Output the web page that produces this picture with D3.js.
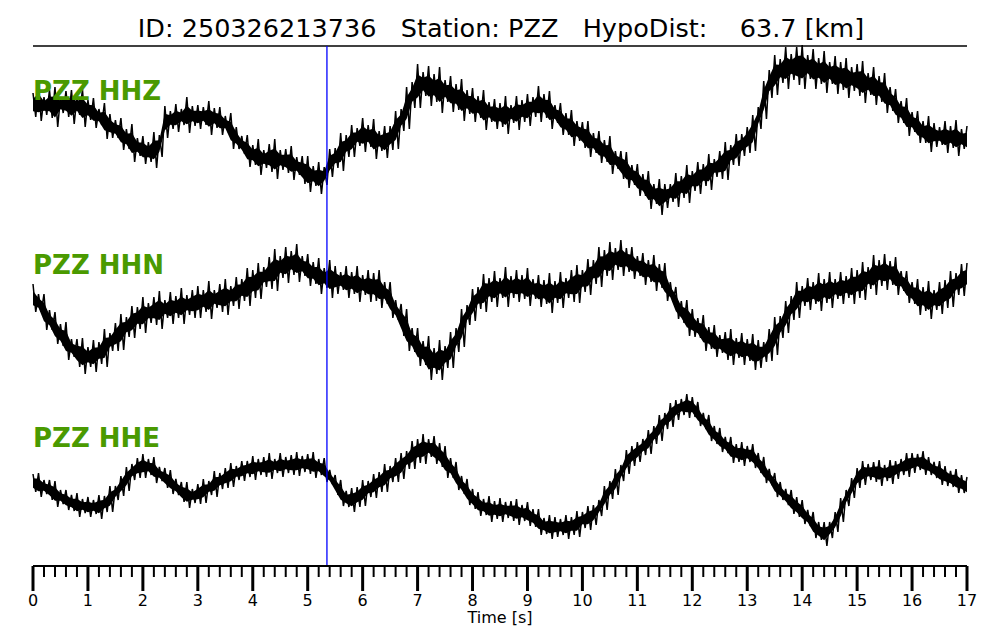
<!DOCTYPE html>
<html><head><meta charset="utf-8">
<script src="https://cdn.jsdelivr.net/npm/d3@7"></script>
<style>body{margin:0;background:#fff}svg{display:block}</style>
</head><body><svg id="c" width="1000" height="640"></svg>
<script>
// ---- data (0.1 s bins; trace mid value and noise half-width, arbitrary amplitude units) ----
const titleText = "ID: 250326213736   Station: PZZ   HypoDist:    63.7 [km]";
const channels = ["PZZ HHZ", "PZZ HHN", "PZZ HHE"];
const pickTime = 5.35;
const tMax = 17;
const binStep = 0.1;
const tickLabels = ["0","1","2","3","4","5","6","7","8","9","10","11","12","13","14","15","16","17"];

const hhzMid = [25,27,24,26,23,25,26,23,24,22, 20,17,13,9,4,1,-4,-9,-13,-17, -20,-22,-20,-16,8,10,12,13,15,14,
  13,14,12,12,9,6,-1,-8,-15,-21, -25,-27,-29,-28,-29,-30,-31,-33,-36,-40, -44,-46,-48,-46,-33,-28,-22,-16,-11,-7,
  -5,-6,-9,-11,-12,-8,0,10,22,35, 44,46,44,42,40,39,36,33,30,28, 25,23,20,18,16,15,15,16,17,19,
  20,23,26,24,20,16,11,6,2,-1, -5,-9,-13,-17,-21,-25,-30,-35,-40,-45, -50,-55,-60,-64,-67,-66,-63,-60,-57,-54,
  -51,-48,-45,-42,-38,-35,-31,-25,-20,-15, -10,-3,12,30,46,55,59,62,63,64, 63,63,61,59,58,57,55,54,52,51,
  50,48,46,44,41,37,31,24,18,13, 8,3,-2,-4,-5,-6,-7,-7,-8,-9, -10];
const hhzNoise = [12,18,9,14,20,8,13,17,9,19, 10,15,8,18,12,9,16,10,19,9, 14,10,18,11,16,9,14,8,18,10,
  12,9,17,10,14,8,18,11,9,16, 10,18,9,14,20,10,12,17,9,14, 18,10,16,9,14,10,19,11,16,9,
  17,11,20,10,16,12,19,11,21,13, 22,12,20,14,23,11,18,13,21,12, 17,11,20,10,15,12,19,9,17,11,
  16,10,18,12,19,9,16,11,18,10, 13,18,10,16,11,19,9,14,18,10, 16,11,19,10,18,12,9,17,11,19,
  10,16,11,18,9,14,19,10,16,11, 13,18,11,19,14,20,12,21,13,19, 22,12,20,13,21,11,19,14,20,12,
  16,21,11,19,13,20,12,17,11,19, 10,16,11,18,12,9,16,11,18,10, 14];

const hhnMid = [12,7,-2,-10,-18,-25,-31,-38,-43,-46, -47,-46,-43,-38,-32,-27,-22,-17,-12,-8, -5,-3,-1,0,1,2,3,4,5,6,
  8,9,10,11,12,13,14,17,20,23, 26,29,33,37,40,43,45,47,47,44, 40,37,34,32,31,30,29,28,27,26,
  25,24,23,21,17,10,0,-10,-20,-30, -37,-43,-48,-51,-50,-47,-40,-30,-18,-5, 5,12,17,20,21,22,23,23,24,23,
  23,21,19,18,17,18,20,22,24,26, 29,33,38,43,47,49,51,52,50,47, 44,41,39,37,34,28,18,7,-2,-8,
  -13,-18,-23,-28,-31,-34,-36,-37,-38,-39, -40,-42,-44,-42,-35,-26,-17,-7,2,10, 14,16,17,18,19,20,21,22,23,24,
  26,29,32,35,37,38,37,34,29,23, 17,13,11,10,10,12,16,21,26,30, 33];
const hhnNoise = [14,9,18,10,16,11,19,9,14,18, 10,16,11,19,9,14,18,10,16,11, 18,10,14,19,9,16,11,18,10,14,
  16,11,19,9,14,18,10,16,11,19, 14,18,10,16,21,11,18,12,19,10, 16,11,18,10,19,14,9,16,11,18,
  10,16,14,19,11,18,10,16,21,12, 19,12,22,13,20,11,18,12,19,10, 16,11,19,12,18,10,20,11,16,12,
  19,10,16,12,20,11,18,10,16,19, 11,18,12,20,13,19,11,18,12,16, 10,16,11,18,12,19,10,16,11,18,
  14,10,18,11,16,9,14,18,10,16, 11,18,14,10,16,19,11,16,12,18, 10,16,11,19,12,18,10,16,11,18,
  14,19,11,20,13,18,12,19,10,16, 11,18,12,19,10,16,14,18,11,16, 14];

const hheMid = [-13,-15,-17,-20,-24,-27,-30,-33,-35,-36, -37,-37,-37,-34,-29,-23,-16,-9,-2,2, 4,3,0,-4,-8,-12,-17,-22,-25,-26,
  -24,-21,-18,-14,-11,-8,-5,-3,-1,1, 2,3,3,4,4,5,5,5,6,6, 6,5,3,0,-7,-15,-23,-29,-30,-27,
  -23,-19,-16,-12,-8,-4,0,4,10,15, 19,21,22,20,15,8,2,-6,-15,-22, -29,-34,-37,-39,-40,-40,-40,-41,-42,-43,
  -44,-48,-52,-56,-57,-57,-57,-57,-56,-54, -50,-48,-45,-38,-28,-20,-12,-3,8,14, 18,23,28,35,42,49,55,60,63,64,
  63,56,49,42,35,30,25,20,17,16, 16,14,7,0,-7,-15,-21,-27,-32,-37, -42,-48,-55,-61,-64,-60,-52,-40,-28,-18,
  -8,-3,-2,-2,-3,-3,-2,0,3,5, 7,8,7,4,0,-3,-6,-9,-11,-14, -17];
const hheNoise = [9,12,7,10,13,7,10,8,12,7, 10,7,12,8,13,7,10,12,8,10, 12,8,13,7,10,12,8,10,13,7,
  10,12,7,13,8,10,12,7,10,8, 12,8,10,13,7,12,8,10,12,8, 10,13,8,12,7,10,13,8,12,10,
  13,8,12,10,14,8,12,13,9,14, 12,15,9,14,12,16,10,14,9,13, 10,12,8,13,9,12,8,10,13,8,
  12,9,13,8,12,10,8,12,9,13, 8,12,10,8,12,9,13,8,12,10, 10,8,12,9,13,8,12,10,8,12,
  10,12,8,13,9,12,8,13,9,12, 8,12,10,13,8,12,9,8,12,10, 12,8,13,9,12,8,10,12,8,10,
  10,12,8,10,13,8,12,9,8,12, 10,8,12,9,8,12,10,8,12,9, 10];

const traces = [
  {name: channels[0], mid: hhzMid, noise: hhzNoise},
  {name: channels[1], mid: hhnMid, noise: hhnNoise},
  {name: channels[2], mid: hheMid, noise: hheNoise}
];

// ---- layout ----
const svg = d3.select("#c");
const left = 33, right = 967, topLine = 46, axisY = 566;
const centers = [130, 310, 470];
const green = "#4a9a00";
const font = "DejaVu Sans, Verdana, sans-serif";

const x = d3.scaleLinear().domain([0, tMax]).range([left, right]);

// title
svg.append("text").attr("x", 501).attr("y", 37).attr("text-anchor", "middle")
  .attr("font-family", font).attr("font-size", 25.5).attr("fill", "#000")
  .style("white-space", "pre").attr("xml:space", "preserve").text(titleText);
svg.append("line").attr("x1", left).attr("x2", right).attr("y1", topLine).attr("y2", topLine)
  .attr("stroke", "#000").attr("stroke-width", 1.5);

// traces
traces.forEach((tr, i) => {
  const y = d3.scaleLinear().domain([-100, 100]).range([centers[i] + 100, centers[i] - 100]);
  const bins = tr.mid.map((m, k) => ({t: k * binStep, m, n: tr.noise[k]}));
  // dense core of the trace
  svg.append("path").datum(bins)
    .attr("d", d3.area().x(d => x(d.t)).y0(d => y(d.m - d.n * 0.52)).y1(d => y(d.m + d.n * 0.52)))
    .attr("fill", "#000");
  // spikes
  const pts = [];
  bins.forEach(d => {
    pts.push([x(d.t), y(d.m + d.n)]);
    if (d.t + binStep / 2 <= tMax + 1e-9) pts.push([x(d.t + binStep / 2), y(d.m - d.n)]);
  });
  svg.append("path").attr("d", d3.line()(pts)).attr("fill", "none")
    .attr("stroke", "#000").attr("stroke-width", 1.5).attr("stroke-linejoin", "miter")
    .attr("stroke-miterlimit", 2);
});

// channel labels
const labelY = [100, 274, 447];
traces.forEach((tr, i) => {
  svg.append("text").attr("x", left).attr("y", labelY[i])
    .attr("font-family", font).attr("font-weight", "bold").attr("font-size", 26)
    .attr("fill", green).text(tr.name);
});

// pick line
svg.append("line").attr("x1", x(pickTime)).attr("x2", x(pickTime))
  .attr("y1", topLine).attr("y2", axisY).attr("stroke", "#0000ff").attr("stroke-width", 1.3);

// time axis (ticks hanging down)
const minorTicks = d3.range(0, tMax * 5 + 1).map(d => d / 5);
const gAx = svg.append("g");
gAx.append("line").attr("x1", left).attr("x2", right).attr("y1", axisY).attr("y2", axisY)
  .attr("stroke", "#000").attr("stroke-width", 2);
gAx.selectAll("line.minor").data(minorTicks.filter((d, i) => i % 5 !== 0)).join("line")
  .attr("class", "minor").attr("x1", d => x(d)).attr("x2", d => x(d))
  .attr("y1", axisY).attr("y2", axisY + 11).attr("stroke", "#000").attr("stroke-width", 2);
gAx.selectAll("line.major").data(tickLabels).join("line")
  .attr("class", "major").attr("x1", d => x(+d)).attr("x2", d => x(+d))
  .attr("y1", axisY).attr("y2", axisY + 25).attr("stroke", "#000").attr("stroke-width", 3);
gAx.selectAll("text").data(tickLabels).join("text")
  .attr("x", d => x(+d)).attr("y", 606).attr("text-anchor", "middle")
  .attr("font-family", font).attr("font-size", 16).attr("fill", "#000").text(d => d);
svg.append("text").attr("x", 500).attr("y", 623).attr("text-anchor", "middle")
  .attr("font-family", font).attr("font-size", 16).attr("fill", "#000").text("Time [s]");
</script></body></html>
